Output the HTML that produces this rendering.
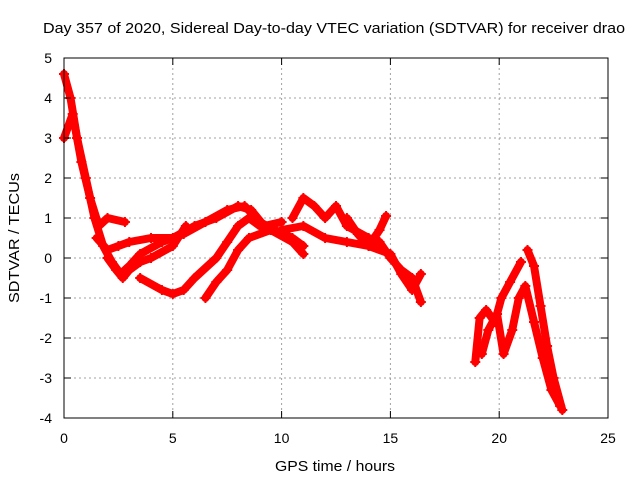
<!DOCTYPE html>
<html><head><meta charset="utf-8"><style>
body{margin:0;background:#fff}
svg{display:block;font-family:"Liberation Sans",sans-serif;font-size:14px}
</style></head><body>
<svg id="c" width="640" height="480">
<text x="334" y="33" text-anchor="middle" font-size="15" textLength="582" lengthAdjust="spacingAndGlyphs">Day 357 of 2020, Sidereal Day-to-day VTEC variation (SDTVAR) for receiver drao</text>
<text x="335" y="471" text-anchor="middle" font-size="15" textLength="120" lengthAdjust="spacingAndGlyphs">GPS time / hours</text>
<text transform="translate(19,238) rotate(-90)" text-anchor="middle" font-size="15" textLength="130" lengthAdjust="spacingAndGlyphs">SDTVAR / TECUs</text>
<g id="grid"></g><g id="series"></g><g id="axes"></g>
</svg>
<script>
const xTicks=[0,5,10,15,20,25];
const yTicks=[-4,-3,-2,-1,0,1,2,3,4,5];
const trackA=[[0,4.6],[0.3,4.0],[0.6,3.0],[1.0,2.0],[1.4,1.0],[1.8,0.3],[2.2,-0.1],[2.6,-0.4],[3.0,-0.2],[3.5,0.1],[4.5,0.4],[5.5,0.6],[6.5,0.9],[7.5,1.2],[8.3,1.3],[9,0.9],[10,0.6],[10.5,0.4],[11,0.1]];
const trackA2=[[0,3.0],[0.4,3.6],[0.8,2.4],[1.2,1.5],[1.6,0.8],[2.0,1.0],[2.8,0.9]];
const trackB=[[1.5,0.5],[2.0,0.2],[2.5,0.3],[3,0.4],[4,0.5],[5,0.5],[6,0.8],[7,1.0],[8,1.3],[8.6,1.2],[9.2,0.8],[10,0.9]];
const trackC=[[2.0,0.0],[2.4,-0.3],[2.7,-0.5],[3.0,-0.3],[3.5,-0.1],[4,0.0],[5,0.3],[5.6,0.8]];
const trackD=[[3.5,-0.5],[4.5,-0.8],[5,-0.9],[5.5,-0.8],[6.0,-0.5],[7,0.0],[7.5,0.4],[8.0,0.8],[8.5,1.0],[9,0.8],[9.7,0.7],[10.5,0.5],[11,0.3]];
const trackE=[[6.5,-1.0],[7.0,-0.6],[7.5,-0.3],[8.0,0.2],[8.5,0.5],[9.5,0.7],[10.5,0.4]];
const trackF=[[10.5,1.0],[11,1.5],[11.5,1.3],[12,1.0],[12.5,1.3],[13,0.8],[14,0.5],[14.5,0.4],[15.0,0.0],[15.5,-0.3],[16.0,-0.5],[16.4,-1.1]];
const trackG=[[10.0,0.7],[11,0.8],[12,0.5],[13,0.4],[14,0.3],[15,0.1],[15.5,-0.4],[16,-0.8],[16.4,-0.4]];
const trackH=[[13,1.0],[13.5,0.6],[14,0.3],[14.5,0.7],[14.8,1.05]];
const trackR1=[[18.9,-2.6],[19.1,-1.5],[19.4,-1.3],[19.8,-1.6],[20.1,-1.0],[20.5,-0.6],[21.0,-0.1]];
const trackR2=[[19.2,-2.4],[19.5,-1.8],[19.9,-1.4],[20.2,-2.4],[20.6,-1.8],[20.9,-1.0],[21.2,-0.7],[21.6,-1.6],[22.0,-2.5],[22.4,-3.3],[22.8,-3.7]];
const trackR3=[[21.3,0.2],[21.6,-0.2],[21.9,-1.2],[22.2,-2.2],[22.5,-3.0],[22.9,-3.8]];
const tracks=[trackA,trackA2,trackB,trackC,trackD,trackE,trackF,trackG,trackH,trackR1,trackR2,trackR3];

const X0=64,X1=608,Y0=58,Y1=418,xmin=0,xmax=25,ymin=-4,ymax=5;
const sx=v=>X0+(v-xmin)/(xmax-xmin)*(X1-X0);
const sy=v=>Y1-(v-ymin)/(ymax-ymin)*(Y1-Y0);
const NS='http://www.w3.org/2000/svg';
function mk(t,p,a){const e=document.createElementNS(NS,t);for(const k in a)e.setAttribute(k,a[k]);p.appendChild(e);return e;}
const grid=document.getElementById('grid'),axes=document.getElementById('axes'),ser=document.getElementById('series');
xTicks.forEach(t=>{const x=sx(t);
 if(t>xmin&&t<xmax){const g=mk('line',grid,{x1:x,x2:x,y1:Y0,y2:Y1,stroke:'#a0a0a0','stroke-dasharray':'2,3'});
 
 }
 mk('line',axes,{x1:x,x2:x,y1:Y1,y2:Y1-7,stroke:'#000'});mk('line',axes,{x1:x,x2:x,y1:Y0,y2:Y0+7,stroke:'#000'});
 const l=mk('text',axes,{x:x,y:Y1+25,'text-anchor':'middle'});l.textContent=t;
 
 });
yTicks.forEach(t=>{const y=sy(t);
 if(t>ymin&&t<ymax){const g=mk('line',grid,{x1:X0,x2:X1,y1:y,y2:y,stroke:'#a0a0a0','stroke-dasharray':'2,3'});
 
 }
 mk('line',axes,{x1:X0,x2:X0+7,y1:y,y2:y,stroke:'#000'});mk('line',axes,{x1:X1,x2:X1-7,y1:y,y2:y,stroke:'#000'});
 const l=mk('text',axes,{x:X0-12,y:y+5,'text-anchor':'end'});l.textContent=t;
 
 });
const b=mk('rect',axes,{x:X0,y:Y0,width:X1-X0,height:Y1-Y0,fill:'none',stroke:'#000'});


tracks.forEach((tr,i)=>{
 const pl=mk('polyline',ser,{points:tr.map(p=>sx(p[0])+','+sy(p[1])).join(' '),fill:'none',stroke:'#ff0000','stroke-width':8,'stroke-linejoin':'round','stroke-linecap':'round'});
 
 
 tr.forEach(p=>{const x=sx(p[0]),y=sy(p[1]);
  const m=mk('path',ser,{d:`M${x-5},${y}H${x+5}M${x},${y-5}V${y+5}`,stroke:'#ff0000','stroke-width':2});
  
  });
});
</script>
</body></html>
